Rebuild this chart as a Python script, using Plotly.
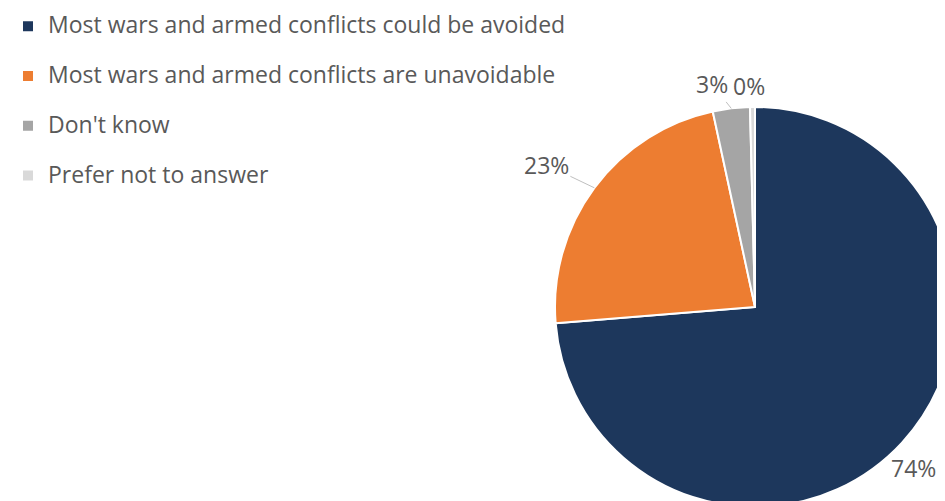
import math
import plotly.graph_objects as go

categories = [
    "Most wars and armed conflicts could be avoided",
    "Most wars and armed conflicts are unavoidable",
    "Don't know",
    "Prefer not to answer",
]
values = [74, 23, 3, 0.4]
colors = ["#1D375C", "#ED7D31", "#A5A5A5", "#D9D9D9"]

# figure / pie geometry (pixels, figure coordinates)
W, H = 960, 510
CX, CY, R = 747, 299, 200

# label offsets from the slice edge point at its mid-angle (dx, dy, leader line?)
label_offsets = [(11, 25, False), (-48, -23, True), (-19, -24, True), (-3, -21, False)]

legend_labels = ["<span style='font-size:23px'>" + c + "</span><br> " for c in categories]

fig = go.Figure(
    go.Pie(
        labels=legend_labels,
        values=values,
        sort=False,
        direction="clockwise",
        rotation=0,
        marker=dict(colors=colors, line=dict(color="white", width=2)),
        textinfo="none",
        domain=dict(x=[(CX - R) / W, (CX + R) / W], y=[(H - CY - R) / H, (H - CY + R) / H]),
        hoverinfo="percent",
    )
)

total = sum(values)
cum = 0.0
annotations = []
for v, (dx, dy, line) in zip(values, label_offsets):
    mid = (cum + v / 2) / total * 2 * math.pi
    cum += v
    ex = CX + R * math.sin(mid)
    ey = CY - R * math.cos(mid)
    txt = f"{round(v / total * 100)}%"
    common = dict(
        text=txt,
        xref="paper",
        yref="paper",
        font=dict(family="Open Sans", size=23, color="#595959"),
    )
    if line:
        annotations.append(dict(
            x=ex / W, y=1 - ey / H, ax=dx, ay=dy,
            showarrow=True, arrowhead=0, arrowwidth=1, arrowcolor="#BFBFBF",
            **common,
        ))
    else:
        annotations.append(dict(
            x=(ex + dx) / W, y=1 - (ey + dy) / H,
            xanchor="center", yanchor="middle",
            showarrow=False, **common,
        ))

fig.update_layout(
    width=W,
    height=H,
    margin=dict(l=0, r=0, t=0, b=0),
    paper_bgcolor="white",
    plot_bgcolor="white",
    font=dict(family="Open Sans", color="#595959"),
    legend=dict(
        x=0,
        y=1.0,
        xanchor="left",
        yanchor="top",
        valign="top",
        font=dict(family="Open Sans", size=18, color="#595959"),
        bgcolor="rgba(0,0,0,0)",
    ),
    showlegend=True,
    annotations=annotations,
)

fig.write_html("out.html")
